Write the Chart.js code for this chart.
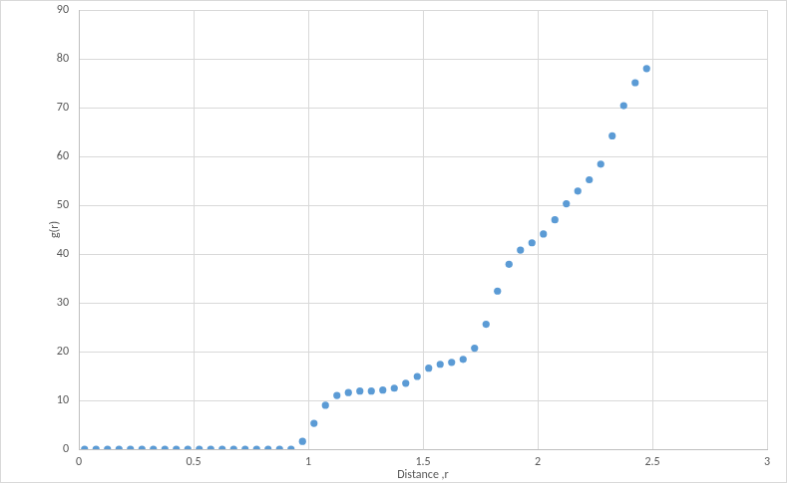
<!DOCTYPE html>
<html>
<head>
<meta charset="utf-8">
<script src="https://cdn.jsdelivr.net/npm/chart.js@4.4.0/dist/chart.umd.min.js"></script>
<style>
  html, body { margin: 0; padding: 0; background: #fff; }
  #gofr { display: block; border: 1px solid #d9d9d9; }
</style>
</head>
<body>
<canvas id="gofr" width="787" height="483"></canvas>
<script>
// radial distribution g(r)
var distance = [
    0.025, 0.075, 0.125, 0.175, 0.225, 0.275, 0.325, 0.375, 0.425, 0.475,
    0.525, 0.575, 0.625, 0.675, 0.725, 0.775, 0.825, 0.875, 0.925, 0.975,
    1.025, 1.075, 1.125, 1.175, 1.225, 1.275, 1.325, 1.375, 1.425, 1.475,
    1.525, 1.575, 1.625, 1.675, 1.725, 1.775, 1.825, 1.875, 1.925, 1.975,
    2.025, 2.075, 2.125, 2.175, 2.225, 2.275, 2.325, 2.375, 2.425, 2.475
];
var gValues = [
    0, 0, 0, 0, 0, 0, 0, 0, 0, 0,
    0, 0, 0, 0, 0, 0, 0, 0, 0, 1.6,
    5.3, 9.0, 11.0, 11.6, 11.9, 11.9, 12.1, 12.5, 13.5, 14.9,
    16.6, 17.4, 17.8, 18.4, 20.7, 25.6, 32.4, 37.9, 40.8, 42.3,
    44.1, 47.0, 50.3, 52.9, 55.2, 58.4, 64.2, 70.4, 75.1, 78.0
];
var xTickLabels = ["0", "0.5", "1", "1.5", "2", "2.5", "3"];
var yTickLabels = ["0", "10", "20", "30", "40", "50", "60", "70", "80", "90"];

var points = distance.map(function (d, i) {
    return { x: d, y: gValues[i] };
});

var textFont = { family: "Calibri, Carlito, 'Liberation Sans', sans-serif", size: 12 };
var textColor = "#595959";

var ctx = document.getElementById("gofr").getContext('2d');

var myChart = new Chart(ctx, {
    type: 'scatter',
    data: {
        datasets: [
            {
                data: points,
                backgroundColor: "#5b9bd5",
                borderColor: "#5b9bd5",
                borderWidth: 0,
                pointRadius: 3.6,
                pointHoverRadius: 3.6
            }
        ]
    },
    options: {
        responsive: false,
        animation: false,
        layout: { padding: { left: 0, right: 19, top: 9, bottom: 0 } },
        plugins: {
            legend: { display: false },
            tooltip: { enabled: false }
        },
        scales: {
            x: {
                type: 'linear',
                min: 0,
                max: 3,
                grid: { color: "#d9d9d9", drawTicks: false },
                border: { color: "#bfbfbf" },
                ticks: {
                    stepSize: 0.5,
                    padding: 6,
                    color: textColor,
                    font: textFont,
                    maxRotation: 0,
                    callback: function (value, index) {
                        return xTickLabels[index];
                    }
                },
                title: {
                    display: true,
                    text: "Distance ,r",
                    color: textColor,
                    font: textFont,
                    padding: { top: 0, bottom: 0 }
                },
                afterFit: function (scale) { scale.height = 33; }
            },
            y: {
                min: 0,
                max: 90,
                grid: { color: "#d9d9d9", drawTicks: false },
                border: { color: "#bfbfbf" },
                ticks: {
                    stepSize: 10,
                    padding: 10,
                    color: textColor,
                    font: textFont,
                    callback: function (value, index) {
                        return yTickLabels[index];
                    }
                },
                title: {
                    display: true,
                    text: "g(r)",
                    color: textColor,
                    font: textFont,
                    padding: { top: 47, bottom: 0 }
                },
                afterFit: function (scale) {
                    scale.width = 78;
                    scale.paddingTop = 0;
                    scale.paddingBottom = 0;
                }
            }
        }
    }
});
</script>
</body>
</html>
